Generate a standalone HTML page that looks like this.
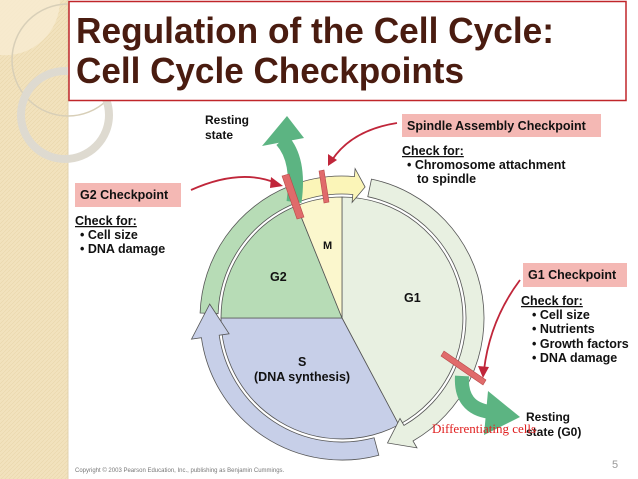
<!DOCTYPE html>
<html><head><meta charset="utf-8"><style>
body{margin:0;width:638px;height:479px;overflow:hidden;background:#fff;font-family:"Liberation Sans",Arial,sans-serif;}
</style></head><body>
<svg width="638" height="479" viewBox="0 0 638 479" xmlns="http://www.w3.org/2000/svg" style="position:absolute;left:0;top:0">
<defs>
<pattern id="hp" width="4" height="4" patternUnits="userSpaceOnUse">
<rect width="4" height="4" fill="#f2e2bd"/><path d="M0,4 L4,0" stroke="#e9d6aa" stroke-width="0.6"/>
</pattern>
</defs>
<rect x="0" y="0" width="68" height="479" fill="url(#hp)"/>
<line x1="68" y1="0" x2="68" y2="479" stroke="#e0d2b0" stroke-width="1"/>
<path d="M0,0 L60,0 A55 55 0 0 1 0,55 Z" fill="#f7ecd2" opacity="0.8"/>
<circle cx="68" cy="60" r="56" fill="none" stroke="#d8cfb8" stroke-width="1.5"/>
<circle cx="65" cy="115" r="44" fill="none" stroke="#dedad0" stroke-width="8"/>
<rect x="69" y="1.5" width="557" height="99" fill="#fff" stroke="#c0262a" stroke-width="1.5"/>
<text x="76" y="43" font-size="36" font-weight="bold" fill="#4a1c10" textLength="478" lengthAdjust="spacingAndGlyphs">Regulation of the Cell Cycle:</text>
<text x="76" y="83" font-size="36" font-weight="bold" fill="#4a1c10" textLength="388" lengthAdjust="spacingAndGlyphs">Cell Cycle Checkpoints</text>

<g stroke="#555" stroke-width="0.8">
<path d="M342,318 L342,197 A121 121 0 0 1 398.8,424.8 Z" fill="#e8f0e1"/>
<path d="M342,318 L398.8,424.8 A121 121 0 0 1 221,318 Z" fill="#c7cfe8"/>
<path d="M342,318 L221,318 A121 121 0 0 1 296.7,205.8 Z" fill="#b7dcb6"/>
<path d="M342,318 L296.7,205.8 A121 121 0 0 1 342,197 Z" fill="#fbf7cd"/>
<path d="M200.1,313 A142 142 0 0 1 288.8,186.4 L295.5,203.1 A124 124 0 0 0 218.1,313.7 Z" fill="#b7dcb6"/>
<path d="M371.5,179.1 A142 142 0 0 1 413,441 L417,447.9 L387.5,443 L400,418.5 L404,425.4 A124 124 0 0 0 367.8,196.7 Z" fill="#e8f0e1"/>
<path d="M378.8,455.2 A142 142 0 0 1 201.4,337.7 L191.5,339.1 L209.7,304.1 L229.1,333.8 L219.2,335.2 A124 124 0 0 0 374.1,437.8 Z" fill="#c7cfe8"/>
<path d="M288.8,186.4 A142 142 0 0 1 354.4,176.6 L355.1,168.6 L365.1,187 L352.1,202.4 L352.8,194.5 A124 124 0 0 0 295.5,203.1 Z" fill="#fbf5b8"/>
</g>

<path d="M294,202 Q300,160 282,140" fill="none" stroke="#5cb482" stroke-width="15"/>
<polygon points="287,116 262,146 304,138" fill="#5cb482"/>
<path d="M462,376 Q460,408 490,412" fill="none" stroke="#5cb482" stroke-width="14"/>
<polygon points="488,391 520,417 484,435" fill="#5cb482"/>

<g fill="#e06b6b" stroke="#b84848" stroke-width="0.6">
<polygon points="282,176 289,174 304,217 297,219"/>
<polygon points="319,171 324,170 329,202 324,203"/>
<polygon points="441,356 444,351 486,380 483,385"/>
</g>

<g fill="none" stroke="#c0263a" stroke-width="1.8">
<path d="M191,190 Q240,168 276,183"/>
<path d="M397,123 Q352,130 332,160"/>
<path d="M520,280 Q490,320 484,370"/>
</g>
<g fill="#c0263a">
<polygon points="283,186 271,177 270,188"/>
<polygon points="328,166 328,154 337,160"/>
<polygon points="483,378 478,366 489,367"/>
</g>

<rect x="402" y="114" width="199" height="23" fill="#f4b8b4"/>
<rect x="75" y="183" width="106" height="24" fill="#f4b8b4"/>
<rect x="523" y="263" width="104" height="24" fill="#f4b8b4"/>
<g font-size="12.5" font-weight="bold" fill="#111">
<text x="407" y="130">Spindle Assembly Checkpoint</text>
<text x="80" y="199">G2 Checkpoint</text>
<text x="528" y="279">G1 Checkpoint</text>
<text x="402" y="155" text-decoration="underline">Check for:</text>
<text x="407" y="169">• Chromosome attachment</text>
<text x="417" y="183">to spindle</text>
<text x="75" y="225" text-decoration="underline">Check for:</text>
<text x="80" y="239">• Cell size</text>
<text x="80" y="253">• DNA damage</text>
<text x="521" y="305" text-decoration="underline">Check for:</text>
<text x="532" y="319">• Cell size</text>
<text x="532" y="333">• Nutrients</text>
<text x="532" y="348">• Growth factors</text>
<text x="532" y="362">• DNA damage</text>
<text x="205" y="124" font-size="12">Resting</text>
<text x="205" y="139" font-size="12">state</text>
<text x="526" y="421" font-size="12">Resting</text>
<text x="526" y="436" font-size="12">state (G0)</text>
<text x="323" y="249" font-size="11">M</text>
<text x="270" y="281">G2</text>
<text x="404" y="302">G1</text>
<text x="298" y="366">S</text>
<text x="254" y="381">(DNA synthesis)</text>
</g>
<text x="432" y="433" font-family="'Liberation Serif',serif" font-size="13" fill="#e02020">Differentiating cells</text>
<text x="75" y="472" font-size="6" fill="#777">Copyright © 2003 Pearson Education, Inc., publishing as Benjamin Cummings.</text>
<text x="612" y="468" font-size="11" fill="#999">5</text>
</svg>
</body></html>
